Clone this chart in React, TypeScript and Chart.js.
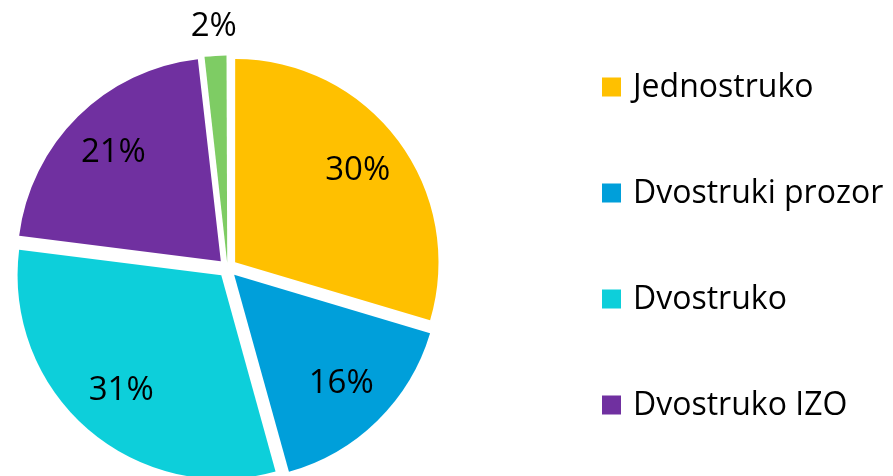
import React, { useEffect, useRef } from "react";
import { Chart, registerables } from "chart.js";

Chart.register(...registerables);

const categories = ["Jednostruko", "Dvostruki prozor", "Dvostruko", "Dvostruko IZO", "Ostalo"];
const values = [29.6, 16.1, 31.3, 21.2, 1.8];
const percentLabels = ["30%", "16%", "31%", "21%", "2%"];
const colors = ["#FFC000", "#009FDA", "#0DCFDA", "#7030A0", "#7ECC64"];

const FONT = "'Open Sans', 'Liberation Sans', sans-serif";

const labelPlugin = {
  id: "sliceLabels",
  afterDatasetsDraw(chart: any) {
    const ctx = chart.ctx;
    const meta = chart.getDatasetMeta(0);
    ctx.save();
    ctx.fillStyle = "#000";
    ctx.font = `33px ${FONT}`;
    ctx.textAlign = "center";
    ctx.textBaseline = "middle";
    meta.data.forEach((arc: any, i: number) => {
      const p = arc.getProps(["x", "y", "startAngle", "endAngle", "outerRadius"], true);
      const mid = (p.startAngle + p.endAngle) / 2;
      const small = values[i] < 5;
      const dist = small ? p.outerRadius + 39 : p.outerRadius * 0.8;
      ctx.fillText(percentLabels[i], p.x + Math.cos(mid) * dist, p.y + Math.sin(mid) * dist);
    });
    ctx.restore();
  },
};

const legendPlugin = {
  id: "sideLegend",
  afterDraw(chart: any) {
    const ctx = chart.ctx;
    ctx.save();
    ctx.font = `32px ${FONT}`;
    ctx.textBaseline = "middle";
    ctx.textAlign = "left";
    const x0 = 602;
    const y0 = 87;
    const step = 106;
    const box = 19;
    categories.forEach((c, i) => {
      const cy = y0 + i * step;
      ctx.fillStyle = colors[i];
      ctx.fillRect(x0, cy - box / 2, box, box);
      ctx.fillStyle = "#000";
      ctx.fillText(c, x0 + 31, cy + 1);
    });
    ctx.restore();
  },
};

export default function App() {
  const ref = useRef<HTMLCanvasElement>(null);
  useEffect(() => {
    const chart = new Chart(ref.current!, {
      type: "pie",
      data: {
        labels: categories,
        datasets: [
          {
            data: values,
            backgroundColor: colors,
            borderWidth: 0,
            offset: [38, 38, 38, 38, 20],
          },
        ],
      },
      options: {
        responsive: false,
        animation: false,
        radius: 203,
        layout: { padding: { top: 60, left: 0, right: 438, bottom: 0 } },
        plugins: {
          legend: { display: false },
          tooltip: { enabled: false },
        },
      } as any,
      plugins: [labelPlugin, legendPlugin],
    });
    return () => chart.destroy();
  }, []);
  return (
    <div style={{ position: "absolute", left: 0, top: 0, width: 893, height: 476, background: "#fff" }}>
      <canvas ref={ref} width={893} height={476} />
    </div>
  );
}
